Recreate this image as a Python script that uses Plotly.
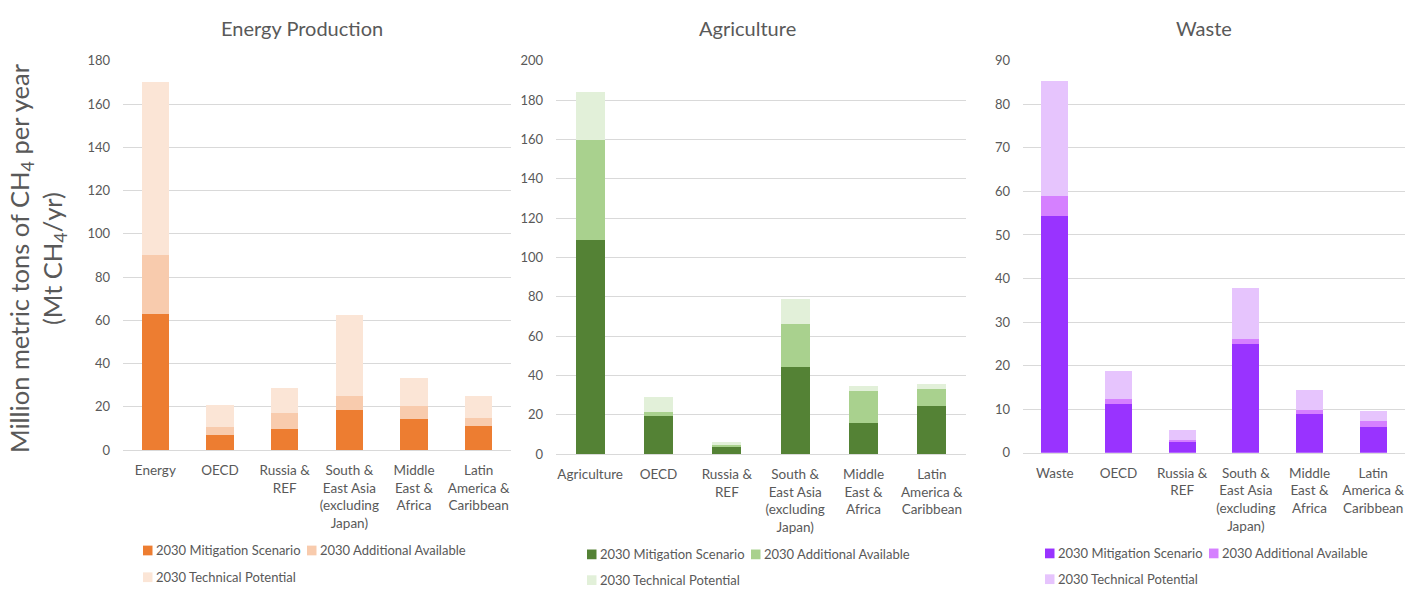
import plotly.graph_objects as go

# ---- data: 2030 methane mitigation by sector and region (Mt CH4/yr) ----
regions = ["OECD", "Russia &<br>REF", "South &<br>East Asia<br>(excluding<br>Japan)",
           "Middle<br>East &<br>Africa", "Latin<br>America &<br>Caribbean"]

series_names = ["2030 Mitigation Scenario", "2030 Additional Available", "2030 Technical Potential"]

energy_mitigation = [62.7, 6.9, 9.7, 18.4, 14.5, 11.1]
energy_additional = [27.4, 3.6, 7.5, 6.5, 5.9, 3.9]
energy_technical = [80.0, 10.5, 11.3, 37.5, 12.9, 9.9]

agri_mitigation = [108.7, 19.2, 3.4, 44.4, 15.7, 24.3]
agri_additional = [50.8, 2.3, 1.8, 21.8, 16.4, 8.6]
agri_technical = [24.7, 7.6, 1.0, 12.7, 2.3, 3.0]

waste_mitigation = [54.3, 11.2, 2.6, 25.0, 9.0, 5.8]
waste_additional = [4.7, 1.2, 0.2, 1.1, 0.8, 1.4]
waste_technical = [26.4, 6.3, 2.5, 11.7, 4.6, 2.4]

W, H = 1406, 594
FONT = "Lato"
GREY = "#595959"
GRID = "#d9d9d9"


def px_x(x):
    return x / W


def px_y(y):
    return 1 - y / H


panels = [
    dict(title="Energy Production", first="Energy",
         values=[energy_mitigation, energy_additional, energy_technical],
         colors=["#ED7D31", "#F8CBAD", "#FBE5D6"],
         xdom=(123, 511), y0=454.3, ytop=54.3, yrange=180, dtick=20,
         title_x=302, legend_x=(143, 307), legend_y=(557.5, 585)),
    dict(title="Agriculture", first="Agriculture",
         values=[agri_mitigation, agri_additional, agri_technical],
         colors=["#548235", "#A9D18E", "#E2F0D9"],
         xdom=(556, 966), y0=458.5, ytop=54.3, yrange=200, dtick=20,
         title_x=747, legend_x=(587, 751), legend_y=(561.5, 588)),
    dict(title="Waste", first="Waste",
         values=[waste_mitigation, waste_additional, waste_technical],
         colors=["#9933FF", "#D580FF", "#E6C4FD"],
         xdom=(1023, 1405), y0=457, ytop=54.3, yrange=90, dtick=10,
         title_x=1204, legend_x=(1045, 1209), legend_y=(560.5, 587)),
]

fig = go.Figure()
annotations = []
shapes = []

for i, p in enumerate(panels, start=1):
    cats = [p["first"]] + regions
    xa = "x" if i == 1 else f"x{i}"
    ya = "y" if i == 1 else f"y{i}"
    for name, vals, col in zip(series_names, p["values"], p["colors"]):
        fig.add_trace(go.Bar(
            x=cats, y=vals, name=name, marker=dict(color=col, line=dict(width=0)),
            width=0.42, xaxis=xa, yaxis=ya, showlegend=False,
        ))

    xkey = "xaxis" if i == 1 else f"xaxis{i}"
    ykey = "yaxis" if i == 1 else f"yaxis{i}"
    fig.update_layout({
        xkey: dict(domain=[px_x(p["xdom"][0]), px_x(p["xdom"][1])], anchor=ya,
                   type="category", showgrid=False, showline=True, linecolor=GRID,
                   linewidth=1, ticks="", ticklabelstandoff=8,
                   tickfont=dict(family=FONT, size=13.5, color=GREY), fixedrange=True),
        ykey: dict(domain=[px_y(p["y0"]), px_y(p["ytop"])], anchor=xa,
                   range=[0, p["yrange"]], dtick=p["dtick"], showgrid=True,
                   gridcolor=GRID, gridwidth=1, zeroline=False, showline=False,
                   ticks="", ticklabelstandoff=12,
                   tickfont=dict(family=FONT, size=13, color=GREY), fixedrange=True),
    })

    # panel title
    annotations.append(dict(
        text=p["title"], x=px_x(p["title_x"]), y=px_y(21), xref="paper", yref="paper",
        xanchor="center", yanchor="middle", showarrow=False,
        font=dict(family=FONT, size=20, color=GREY)))

    # legend: two entries in the first row, one in the second
    entries = [(p["legend_x"][0], p["legend_y"][0]),
               (p["legend_x"][1], p["legend_y"][0]),
               (p["legend_x"][0], p["legend_y"][1])]
    for (lx, ly), name, col in zip(entries, series_names, p["colors"]):
        shapes.append(dict(type="rect", xref="paper", yref="paper",
                           x0=px_x(lx), x1=px_x(lx + 9.5),
                           y0=px_y(ly + 5), y1=px_y(ly - 5),
                           fillcolor=col, line=dict(width=0)))
        annotations.append(dict(
            text=name, x=px_x(lx + 11), y=px_y(ly), xref="paper", yref="paper",
            xanchor="left", yanchor="middle", showarrow=False,
            font=dict(family=FONT, size=13, color=GREY)))

# shared y-axis title
annotations.append(dict(
    text="Million metric tons of CH<sub>4</sub> per year<br>(Mt CH<sub>4</sub>/yr)",
    x=px_x(38), y=px_y(257), xref="paper", yref="paper", textangle=-90,
    xanchor="center", yanchor="middle", showarrow=False,
    font=dict(family=FONT, size=25.5, color=GREY)))

fig.update_layout(
    width=W, height=H, barmode="stack",
    margin=dict(l=0, r=0, t=0, b=0),
    paper_bgcolor="white", plot_bgcolor="white",
    annotations=annotations, shapes=shapes,
    font=dict(family=FONT, color=GREY),
)

fig.write_html("out.html")
